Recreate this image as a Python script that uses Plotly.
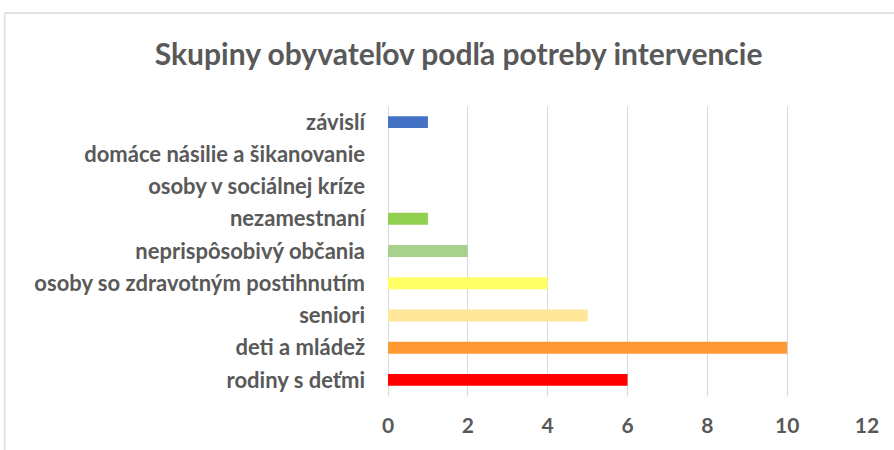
import plotly.graph_objects as go

categories = ["rodiny s deťmi", "deti a mládež", "seniori",
              "osoby so zdravotným postihnutím", "neprispôsobivý občania",
              "nezamestnaní", "osoby v sociálnej kríze",
              "domáce násilie a šikanovanie", "závislí"]
values = [6, 10, 5, 4, 2, 1, 0, 0, 1]
colors = ["#FF0000", "#FF9933", "#FFE699", "#FFFF66", "#A9D18E",
          "#92D050", "#5B9BD5", "#ED7D31", "#4472C4"]
x_ticks = [0, 2, 4, 6, 8, 10, 12]

FONT = "Lato"
GRAY = "#595959"

fig = go.Figure(go.Bar(
    y=categories, x=values, orientation="h",
    marker=dict(color=colors, line=dict(width=0)),
    width=0.37,
))

fig.update_layout(
    width=894, height=450,
    margin=dict(l=388, r=27, t=106, b=54, autoexpand=False),
    paper_bgcolor="white", plot_bgcolor="white",
    showlegend=False,
    title=dict(text="Skupiny obyvateľov podľa potreby intervencie",
               x=0.513, xanchor="center", y=0.88, yanchor="middle",
               font=dict(family=FONT, size=30, color=GRAY, weight="bold")),
    font=dict(family=FONT, color=GRAY),
    xaxis=dict(range=[0, 12], tickvals=x_ticks, showgrid=True,
               gridcolor="#D9D9D9", gridwidth=1.3, zeroline=True,
               zerolinecolor="#D9D9D9", zerolinewidth=1.3,
               showline=False, ticks="", automargin=False,
               tickfont=dict(family=FONT, size=21, color=GRAY, weight="bold"),
               ticklabelstandoff=15, fixedrange=True),
    yaxis=dict(categoryorder="array", categoryarray=categories,
               showgrid=False, zeroline=False, showline=False, ticks="",
               automargin=False,
               tickfont=dict(family=FONT, size=22, color=GRAY, weight="bold"),
               ticklabelstandoff=22, fixedrange=True),
    shapes=[dict(type="rect", xref="paper", yref="paper",
                 x0=-0.8, x1=1.2, y0=-0.4, y1=1.3207,
                 line=dict(color="#D9D9D9", width=1.3), layer="below")],
)

fig.write_html("out.html", config={"displayModeBar": False},
               post_script="document.body.style.margin='0';document.body.style.overflow='hidden';")
